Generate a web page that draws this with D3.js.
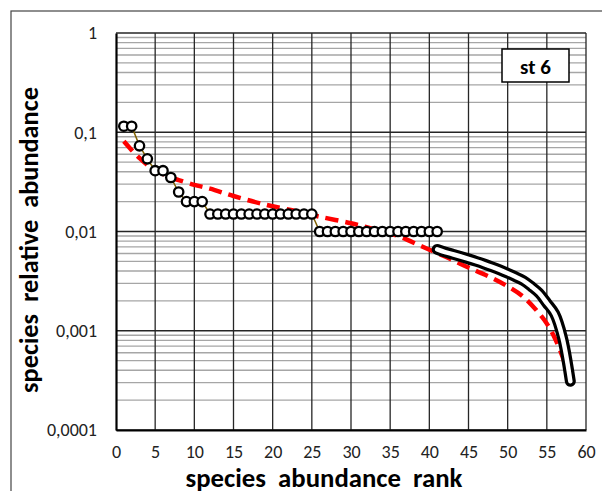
<!DOCTYPE html>
<html>
<head>
<meta charset="utf-8">
<script src="https://cdn.jsdelivr.net/npm/d3@7"></script>
<style>
  html, body { margin: 0; padding: 0; background: #fff; }
  svg { display: block; }
  text { font-family: Calibri, Carlito, Lato, "Open Sans", sans-serif; }
</style>
</head>
<body>
<svg id="chart" width="602" height="491"></svg>
<script>
// Observed relative abundances, ranks 1..41 (rank = index + 1)
const obsAbundance = [
  0.115, 0.115, 0.073, 0.054, 0.041, 0.041, 0.035, 0.025, 0.020, 0.020, 0.020,
  0.015, 0.015, 0.015, 0.015, 0.015, 0.015, 0.015, 0.015, 0.015, 0.015, 0.015, 0.015, 0.015, 0.015,
  0.010, 0.010, 0.010, 0.010, 0.010, 0.010, 0.010, 0.010, 0.010, 0.010, 0.010, 0.010, 0.010, 0.010, 0.010, 0.010
];

// Tail of the distribution, ranks 41..58
const tailRank = [41, 42, 43, 44, 45, 46, 47, 48, 49, 50, 51, 52, 53, 54, 55, 56, 57, 58];
const tailAbundance = [0.0066, 0.0062, 0.0059, 0.0056, 0.0053, 0.0050, 0.0047, 0.0044, 0.0041, 0.0038,
  0.0035, 0.0032, 0.0028, 0.0024, 0.0019, 0.00148, 0.00085, 0.00031];

// Fitted model curve
const fitRank = [1, 2, 3, 4, 5, 6, 7, 8, 10, 12, 15, 19, 23, 26, 30, 33, 36, 39, 42, 44, 46, 48, 50, 52, 54, 55, 56, 57, 58];
const fitAbundance = [0.081, 0.066, 0.055, 0.047, 0.042, 0.038, 0.035, 0.033, 0.0295, 0.027, 0.0228, 0.0187,
  0.016, 0.0141, 0.0121, 0.0105, 0.0090, 0.0071, 0.0056, 0.0047, 0.0040, 0.0034, 0.0028, 0.0022, 0.0015,
  0.00118, 0.00085, 0.00055, 0.0003];

const xTicks = [0, 5, 10, 15, 20, 25, 30, 35, 40, 45, 50, 55, 60];
const yTicks = [0.0001, 0.001, 0.01, 0.1, 1];
const yTickLabels = ["0,0001", "0,001", "0,01", "0,1", "1"];
const stationLabel = "st 6";
const xTitle = "species  abundance  rank";
const yTitle = "species  relative  abundance";

const svg = d3.select("#chart");
const plot = { left: 116, right: 586, top: 33, bottom: 430 };

const x = d3.scaleLinear().domain([0, 60]).range([plot.left, plot.right]);
const y = d3.scaleLog().domain([0.0001, 1]).range([plot.bottom, plot.top]);

// outer chart frame
svg.append("rect").attr("x", 11).attr("y", 11).attr("width", 620).attr("height", 520)
  .attr("fill", "#fff").attr("stroke", "#444").attr("stroke-width", 1.2);

const grid = svg.append("g");
// minor horizontal gridlines (2..9 within each decade)
const minor = [];
[0.0001, 0.001, 0.01, 0.1].forEach(d => { for (let k = 2; k <= 9; k++) minor.push(d * k); });
grid.selectAll("line.minor").data(minor).join("line")
  .attr("x1", plot.left).attr("x2", plot.right)
  .attr("y1", d => y(d)).attr("y2", d => y(d))
  .attr("stroke", "#a6a6a6").attr("stroke-width", 1.4);
// major horizontal gridlines
grid.selectAll("line.hmaj").data(yTicks).join("line")
  .attr("x1", plot.left).attr("x2", plot.right)
  .attr("y1", d => y(d)).attr("y2", d => y(d))
  .attr("stroke", "#262626").attr("stroke-width", 1.4);
// vertical gridlines
grid.selectAll("line.vmaj").data(xTicks.slice(1)).join("line")
  .attr("x1", d => x(d)).attr("x2", d => x(d))
  .attr("y1", plot.top).attr("y2", plot.bottom)
  .attr("stroke", "#262626").attr("stroke-width", 1.3);

// axes
const xAxis = svg.append("g").attr("transform", `translate(0,${plot.bottom})`)
  .call(d3.axisBottom(x).tickValues(xTicks).tickSize(0).tickPadding(15).tickFormat(d3.format("d")));
const yAxis = svg.append("g").attr("transform", `translate(${plot.left},0)`)
  .call(d3.axisLeft(y).tickValues(yTicks).tickSize(0).tickPadding(19)
    .tickFormat((d, i) => yTickLabels[i]));
[xAxis, yAxis].forEach(a => {
  a.select(".domain").attr("stroke", "#000").attr("stroke-width", 2.2);
  a.selectAll("text").attr("font-size", 18).attr("fill", "#222")
    .attr("font-family", "Calibri, Carlito, Lato, sans-serif");
});

const smooth = d3.curveCatmullRom.alpha(0.5);

// fitted model curve, dashed red
svg.append("path")
  .datum(fitRank.map((r, i) => [r, fitAbundance[i]]))
  .attr("fill", "none").attr("stroke", "#ff0000").attr("stroke-width", 4.5)
  .attr("stroke-dasharray", "13,7")
  .attr("d", d3.line().x(d => x(d[0])).y(d => y(d[1])).curve(smooth));

// observed points joined by a thin line
const obs = obsAbundance.map((v, i) => [i + 1, v]);
svg.append("path").datum(obs)
  .attr("fill", "none").attr("stroke", "#7f6000").attr("stroke-width", 1.5)
  .attr("d", d3.line().x(d => x(d[0])).y(d => y(d[1])));
svg.append("g").selectAll("circle").data(obs).join("circle")
  .attr("cx", d => x(d[0])).attr("cy", d => y(d[1])).attr("r", 4.7)
  .attr("fill", "#fff").attr("stroke", "#000").attr("stroke-width", 2.3);

// tail drawn as an outlined (double) line
const tail = tailRank.map((r, i) => [r, tailAbundance[i]]);
const tailLine = d3.line().x(d => x(d[0])).y(d => y(d[1])).curve(smooth);
svg.append("path").datum(tail)
  .attr("fill", "none").attr("stroke", "#000").attr("stroke-width", 11)
  .attr("stroke-linecap", "round").attr("stroke-linejoin", "round")
  .attr("d", tailLine);
svg.append("path").datum(tail)
  .attr("fill", "none").attr("stroke", "#fff").attr("stroke-width", 4.5)
  .attr("stroke-linecap", "round").attr("stroke-linejoin", "round")
  .attr("d", tailLine);

// station label box
svg.append("rect").attr("x", 502).attr("y", 49).attr("width", 67).attr("height", 33)
  .attr("fill", "#fff").attr("stroke", "#000").attr("stroke-width", 1.5);
svg.append("text").attr("x", 535.5).attr("y", 74).attr("text-anchor", "middle")
  .attr("font-size", 21).attr("font-weight", "bold").attr("fill", "#000").text(stationLabel);

// axis titles, sized to span their measured extents
function fitTitle(sel, target) {
  const len = sel.node().getComputedTextLength();
  if (len > 0) sel.attr("font-size", 20 * target / len);
}
const xt = svg.append("text").attr("x", 324).attr("y", 487).attr("text-anchor", "middle")
  .attr("font-size", 20).attr("font-weight", "bold").style("white-space", "pre")
  .attr("fill", "#000").text(xTitle);
fitTitle(xt, 277);
const yt = svg.append("text").attr("transform", "translate(38,240) rotate(-90)")
  .attr("text-anchor", "middle")
  .attr("font-size", 20).attr("font-weight", "bold").style("white-space", "pre")
  .attr("fill", "#000").text(yTitle);
fitTitle(yt, 306);
</script>
</body>
</html>
